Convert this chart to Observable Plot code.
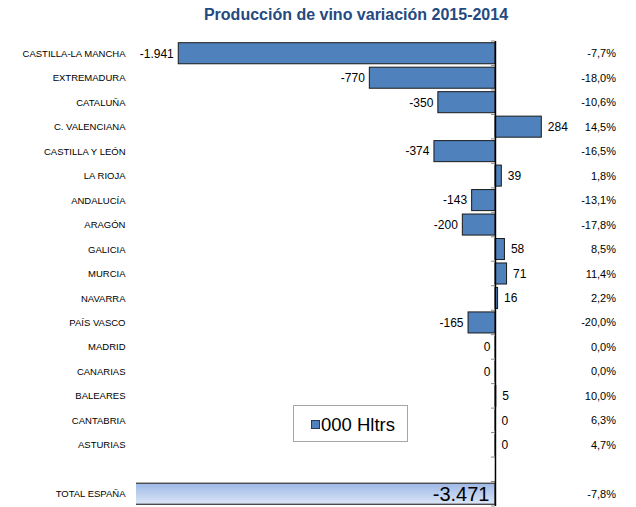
<!DOCTYPE html>
<html><head><meta charset="utf-8">
<script src="https://cdn.jsdelivr.net/npm/d3@7"></script>
<script src="https://cdn.jsdelivr.net/npm/@observablehq/plot@0.6"></script>
<style>
body{margin:0;background:#fff;font-family:Arial,"Liberation Sans",sans-serif;}
#wrap{position:relative;width:636px;height:507px;overflow:hidden;}
#title{position:absolute;left:356px;top:5px;transform:translateX(-50%);white-space:nowrap;font-weight:bold;font-size:16px;line-height:20px;color:#244A80;z-index:2;}
#legend{position:absolute;left:293px;top:405px;width:115px;height:37px;box-sizing:border-box;border:1px solid #a6a6a6;background:#fff;z-index:2;}
#legend .sw{position:absolute;left:17px;top:14px;width:9px;height:9px;box-sizing:border-box;border:1px solid #2a3a55;background:#4F81BD;}
#legend .lt{position:absolute;left:27px;top:9px;font-size:18.5px;line-height:20px;color:#000;white-space:nowrap;}
#chart{position:absolute;left:0;top:0;}
</style></head><body>
<div id="wrap"><div id="title"></div><div id="chart"></div><div id="legend"><span class="sw"></span><span class="lt"></span></div></div>
<script>
const chartTitle = "Producción de vino variación 2015-2014";
const seriesName = "000 Hltrs";
const regions = ["CASTILLA-LA MANCHA","EXTREMADURA","CATALUÑA","C. VALENCIANA","CASTILLA Y LEÓN","LA RIOJA","ANDALUCÍA","ARAGÓN","GALICIA","MURCIA","NAVARRA","PAÍS VASCO","MADRID","CANARIAS","BALEARES","CANTABRIA","ASTURIAS"];
const values = [-1941,-770,-350,284,-374,39,-143,-200,58,71,16,-165,-0.1,-0.1,5,0.3,0.2];
const pcts = [-7.7,-18.0,-10.6,14.5,-16.5,1.8,-13.1,-17.8,8.5,11.4,2.2,-20.0,0.0,0.0,10.0,6.3,4.7];
const spacer = "";
const totalLabel = "TOTAL ESPAÑA";
const totalValue = -3471;
const totalPct = -7.8;
const xDomain = [-2200, 800];

document.getElementById("title").textContent = chartTitle;
document.querySelector("#legend .lt").textContent = seriesName;

const loc = d3.formatLocale({decimal: ",", thousands: ".", grouping: [3], currency: ["", " €"], minus: "-"});
const fInt = loc.format(",.0f");
const f1 = loc.format(".1f");
const fmtVal = v => fInt(Math.round(v) || 0);
const fmtPct = v => f1(v) + "%";

const rows = regions.map((r, i) => ({region: r, value: values[i], pct: pcts[i]}));
const total = {region: totalLabel, value: totalValue, pct: totalPct};
const allRows = [...rows, total];
const yDomain = [...regions, spacer, totalLabel];

const gradDefs = () => {
  const defs = d3.create("svg:defs");
  const g = defs.append("linearGradient").attr("id", "totGrad").attr("x1", 0).attr("y1", 0).attr("x2", 0).attr("y2", 1);
  g.append("stop").attr("offset", "0%").attr("stop-color", "#9db8e6");
  g.append("stop").attr("offset", "100%").attr("stop-color", "#dce6f6");
  return defs.node();
};

const axisTicks = (index, scales) => {
  const g = d3.create("svg:g").attr("stroke", "#8a8a8a").attr("stroke-width", 1);
  try {
    const y = scales.y, x = scales.x;
    const dom = y.domain(), bw = y.bandwidth(), step = y.step();
    const x0 = x(0);
    const b = dom.map(d => y(d) + bw / 2 - step / 2);
    b.push(y(dom[dom.length - 1]) + bw / 2 + step / 2);
    for (const v of b) g.append("line").attr("x1", x0 - 4).attr("x2", x0).attr("y1", v).attr("y2", v);
  } catch (e) {}
  return g.node();
};

const font = 'Arial, "Liberation Sans", sans-serif';

const chart = Plot.plot({
  width: 636,
  height: 507,
  marginTop: 41,
  marginBottom: 1,
  marginLeft: 136,
  marginRight: 10.5,
  style: {fontFamily: font, background: "white", color: "#000"},
  x: {domain: xDomain, axis: null},
  y: {domain: yDomain, axis: null, paddingInner: 0.14, paddingOuter: 0.07, round: false},
  marks: [
    gradDefs,
    Plot.barX(rows, {x: "value", y: "region", fill: "#4F81BD", stroke: "#1a1a1a", strokeWidth: 1}),
    Plot.barX([total], {x: "value", y: "region", fill: "url(#totGrad)", stroke: "#404040", strokeWidth: 1.3, clip: true}),
    axisTicks,
    Plot.ruleX([0], {stroke: "#000", strokeWidth: 1.5}),
    Plot.text(rows.filter(d => d.value < 0), {x: "value", y: "region", text: d => fmtVal(d.value), textAnchor: "end", dx: -5, fontSize: 12, fill: "#000"}),
    Plot.text(rows.filter(d => d.value >= 0), {x: "value", y: "region", text: d => fmtVal(d.value), textAnchor: "start", dx: 6, fontSize: 12, fill: "#000"}),
    Plot.text([total], {x: 0, y: "region", text: d => fmtVal(d.value), textAnchor: "end", dx: -6, fontSize: 20, fill: "#000"}),
    Plot.text(allRows, {y: "region", text: "region", frameAnchor: "left", textAnchor: "end", dx: -11, fontSize: 9.5, fill: "#000"}),
    Plot.text(allRows, {y: "region", text: d => fmtPct(d.pct), frameAnchor: "right", textAnchor: "end", dx: -10, fontSize: 11, fill: "#000"})
  ]
});
document.getElementById("chart").appendChild(chart);
</script>
</body></html>
